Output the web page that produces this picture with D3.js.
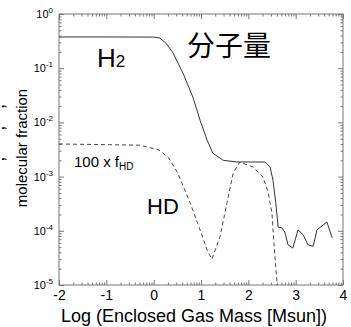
<!DOCTYPE html>
<meta charset="utf-8">
<script src="https://d3js.org/d3.v7.min.js"></script>
<div id="chart"></div>
<style>
body { margin: 0; background: #fff; }
text { font-family: "Liberation Sans", Arial, sans-serif; fill: #000; }
</style>
<script>
// H2 fraction (solid) vs log enclosed mass
var massH2 = [-2, -1, 0, 0.13, 0.26, 0.41, 0.62, 0.83, 0.98, 1.13, 1.25, 1.47, 1.76, 2.04, 2.35, 2.46, 2.52, 2.58, 2.63, 2.71, 2.77, 2.84, 2.94, 3.05, 3.16, 3.26, 3.37, 3.45, 3.58, 3.66, 3.77];
var fH2 = [0.377, 0.377, 0.375, 0.36, 0.29, 0.19, 0.081, 0.029, 0.011, 0.0047, 0.0027, 0.0020, 0.00186, 0.00186, 0.00186, 0.0015, 0.00086, 0.00033, 0.000117, 0.000113, 0.000095, 0.000055, 0.000048, 0.000104, 0.000084, 0.000055, 0.000052, 0.000104, 0.000128, 0.000145, 0.000074];

// 100 x HD fraction (dashed)
var massHD = [-2, -0.29, 0.11, 0.32, 0.51, 0.77, 0.98, 1.13, 1.23, 1.40, 1.55, 1.68, 1.82, 2.10, 2.31, 2.42, 2.50, 2.54, 2.61, 2.63];
var fHD100 = [0.0040, 0.0038, 0.0031, 0.0022, 0.00116, 0.00033, 0.000104, 0.000044, 0.000030, 0.000077, 0.00033, 0.00116, 0.00186, 0.0015, 0.00098, 0.00050, 0.00021, 0.00006, 0.00001, 0.000001];

var xTicks = [-2, -1, 0, 1, 2, 3, 4];
var yTicks = [1, 1e-1, 1e-2, 1e-3, 1e-4, 1e-5];
var yExp = ["0", "-1", "-2", "-3", "-4", "-5"];

var margin = {top: 14, right: 8, bottom: 42, left: 59},
    width = 351 - margin.left - margin.right,
    height = 327 - margin.top - margin.bottom;

var svg = d3.select("#chart")
  .append("svg")
    .attr("width", 351)
    .attr("height", 327);

var g = svg.append("g")
    .attr("transform", "translate(" + margin.left + "," + margin.top + ")");

var x = d3.scaleLinear().domain([-2, 4]).range([0, width]);
var y = d3.scaleLog().domain([1e-5, 1]).range([height, 0]);

// minor tick positions
var xMinor = [];
for (var n = -2; n < 4; n++) for (var k = 2; k <= 9; k++) xMinor.push(n + Math.log10(k));
var yMinor = [];
for (var e = -5; e < 0; e++) for (var k = 2; k <= 9; k++) yMinor.push(k * Math.pow(10, e));

var axisColor = "#777";

function styleAxis(sel) {
  sel.select(".domain").remove();
  sel.selectAll(".tick line").attr("stroke", axisColor);
}

// bottom
g.append("g").attr("transform", "translate(0," + height + ")")
  .call(d3.axisBottom(x).tickValues(xMinor).tickSize(-2.5).tickFormat(""))
  .call(styleAxis);
g.append("g").attr("transform", "translate(0," + height + ")")
  .call(d3.axisBottom(x).tickValues(xTicks).tickSizeInner(-5).tickSizeOuter(0).tickPadding(5)
        .tickFormat(function(d) { return String(d); }))
  .call(styleAxis)
  .selectAll("text")
    .style("font-family", "'Liberation Sans', Arial, sans-serif")
    .style("font-size", "14px")
    .attr("fill", "#000");
// top
g.append("g")
  .call(d3.axisTop(x).tickValues(xMinor).tickSize(-2.5).tickFormat(""))
  .call(styleAxis);
g.append("g")
  .call(d3.axisTop(x).tickValues(xTicks).tickSize(-5).tickFormat(""))
  .call(styleAxis);
// left
g.append("g")
  .call(d3.axisLeft(y).tickValues(yMinor).tickSize(-2.5).tickFormat(""))
  .call(styleAxis);
g.append("g")
  .call(d3.axisLeft(y).tickValues(yTicks).tickSize(-5).tickFormat(""))
  .call(styleAxis);
// right
g.append("g").attr("transform", "translate(" + width + ",0)")
  .call(d3.axisRight(y).tickValues(yMinor).tickSize(-2.5).tickFormat(""))
  .call(styleAxis);
g.append("g").attr("transform", "translate(" + width + ",0)")
  .call(d3.axisRight(y).tickValues(yTicks).tickSize(-5).tickFormat(""))
  .call(styleAxis);

// y tick labels as 10^n
yTicks.forEach(function(v, i) {
  var t = g.append("text")
    .attr("x", -6)
    .attr("y", y(v) + 4)
    .attr("text-anchor", "end")
    .style("font-size", "11px");
  t.append("tspan").text("10");
  t.append("tspan").attr("dy", -5).style("font-size", "8px").text(yExp[i]);
});

// frame
g.append("rect")
  .attr("width", width)
  .attr("height", height)
  .attr("fill", "none")
  .attr("stroke", axisColor)
  .attr("stroke-width", 1);

// curves
g.append("clipPath").attr("id", "clip")
  .append("rect").attr("width", width).attr("height", height);

var line = d3.line()
  .x(function(d) { return x(d[0]); })
  .y(function(d) { return y(d[1]); });

g.append("path")
  .datum(d3.zip(massH2, fH2))
  .attr("clip-path", "url(#clip)")
  .attr("fill", "none")
  .attr("stroke", "#333")
  .attr("stroke-width", 1)
  .attr("d", line);

g.append("path")
  .datum(d3.zip(massHD, fHD100))
  .attr("clip-path", "url(#clip)")
  .attr("fill", "none")
  .attr("stroke", "#444")
  .attr("stroke-width", 1)
  .attr("stroke-dasharray", "4,3")
  .attr("d", line);

// labels
var h2 = svg.append("text").attr("x", 97).attr("y", 67).style("font-size", "26px");
h2.append("tspan").text("H");
h2.append("tspan").style("font-size", "17px").text("2");

svg.append("text").attr("x", 187).attr("y", 56)
  .style("font-family", "'Noto Sans CJK SC', sans-serif")
  .style("font-size", "28px")
  .text("分子量");

svg.append("text").attr("x", 147).attr("y", 214).style("font-size", "22px").text("HD");

var fhd = svg.append("text").attr("x", 74).attr("y", 167).style("font-size", "15px");
fhd.append("tspan").text("100 x f");
fhd.append("tspan").attr("dy", 3).style("font-size", "10px").text("HD");

// axis titles
svg.append("text")
  .attr("transform", "translate(27,148) rotate(-90)")
  .attr("text-anchor", "middle")
  .style("font-size", "15px")
  .text("molecular fraction");

// first title line, mostly cut off at the left edge (only the commas show)
var cut = svg.append("text")
  .attr("transform", "translate(-1,185) rotate(-90)")
  .style("font-size", "15px");
[["fH2", 0], [",", 5], ["fHD", -5], [",", 5], [" fe", -5], [",", 5]].forEach(function(p) {
  cut.append("tspan").attr("dy", p[1])
    .style("font-size", p[0] === "," ? "18px" : "15px")
    .text(p[0]);
});

svg.append("text")
  .attr("x", 194)
  .attr("y", 322)
  .attr("text-anchor", "middle")
  .style("font-size", "18px")
  .text("Log (Enclosed Gas Mass [Msun])");
</script>
